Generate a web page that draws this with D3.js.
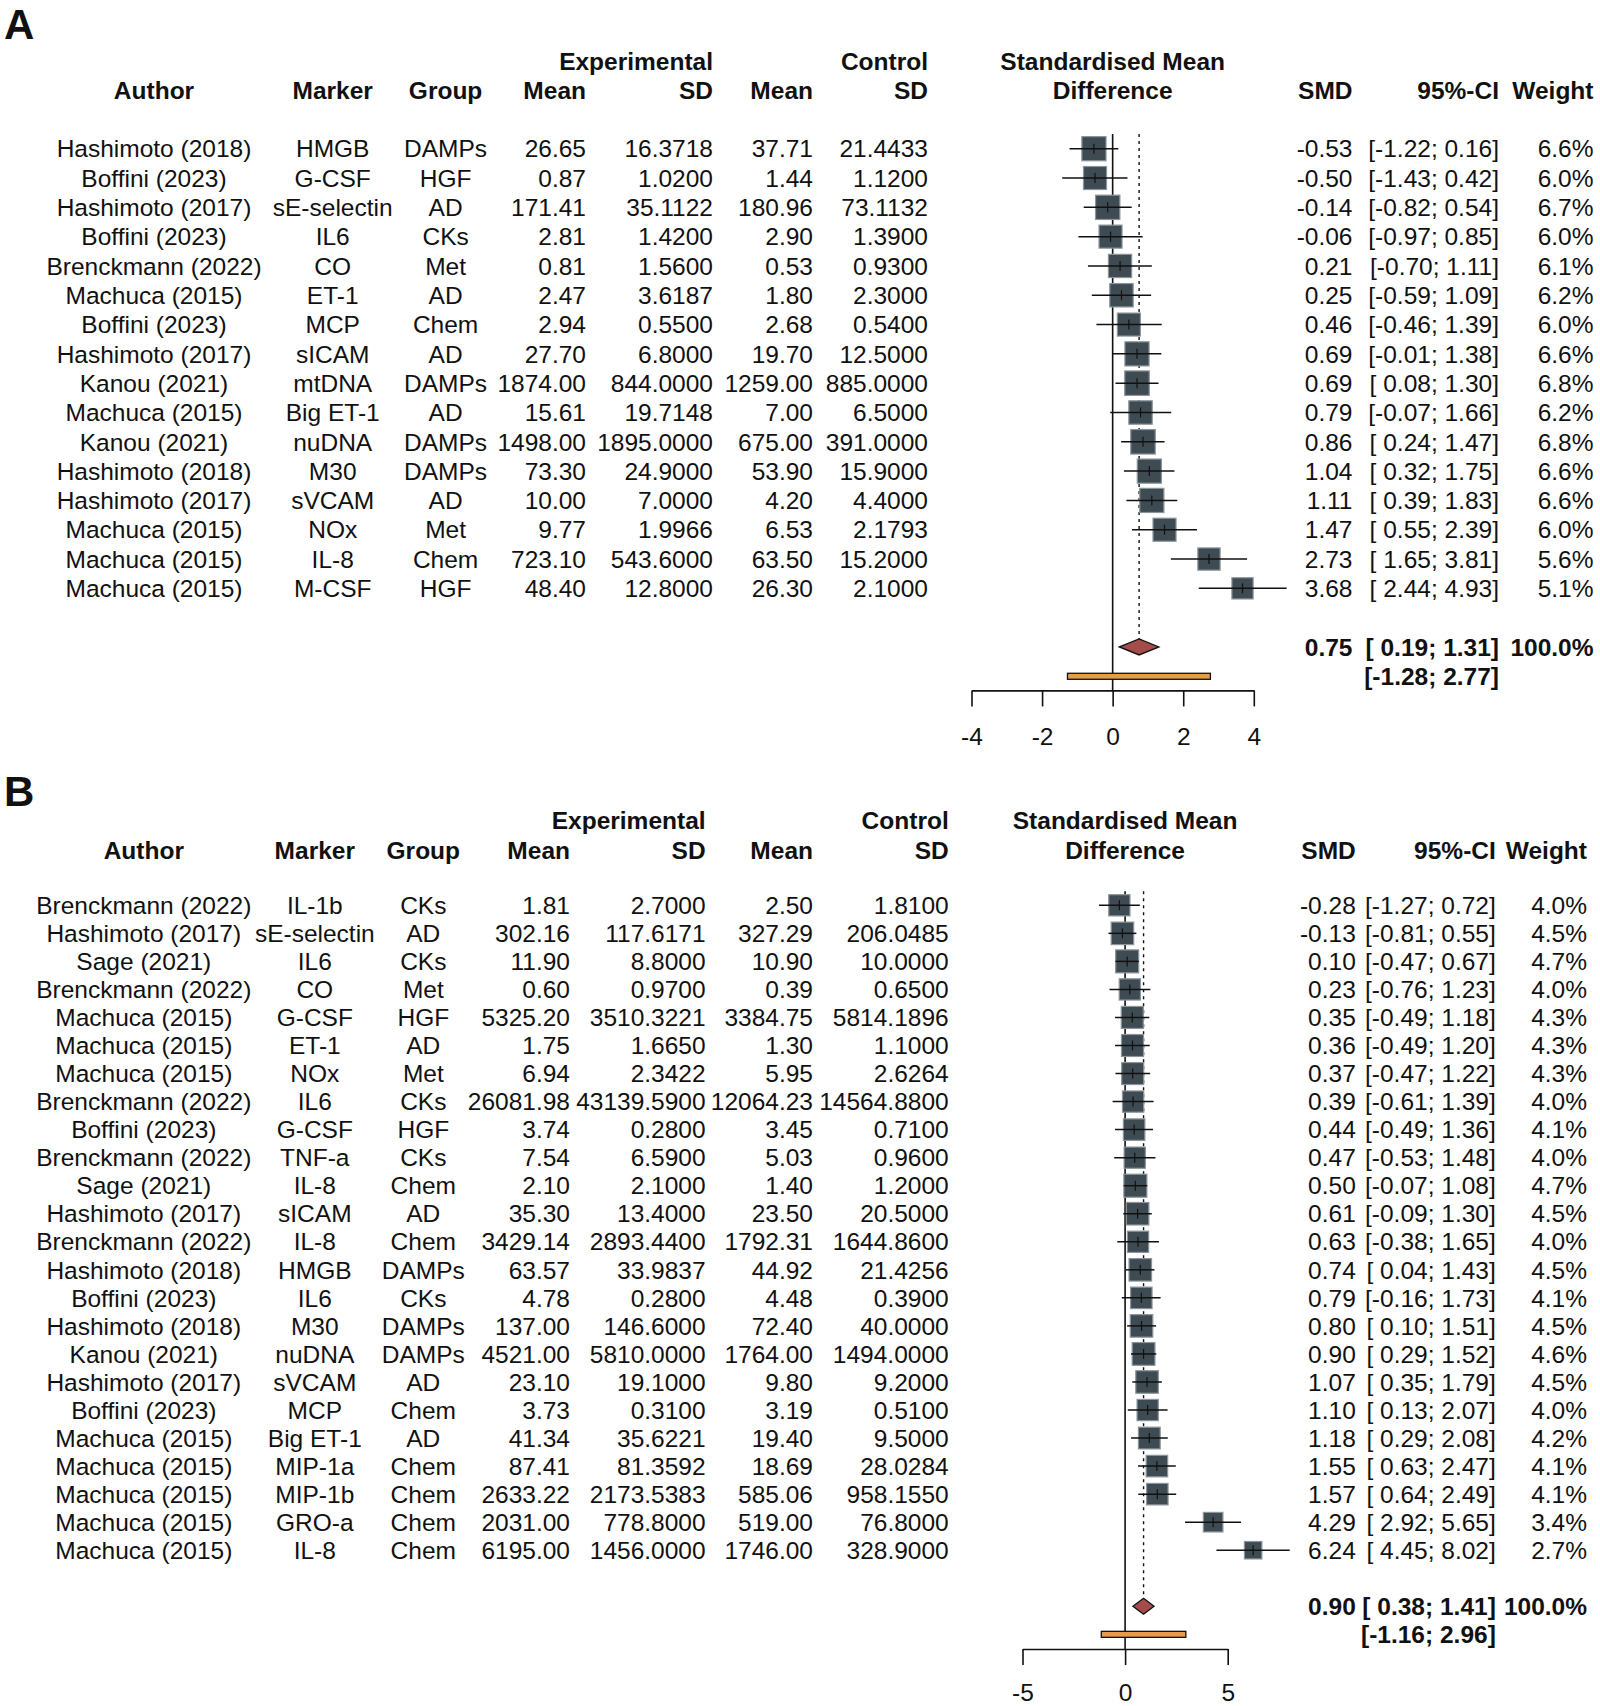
<!DOCTYPE html>
<html lang="en">
<head>
<meta charset="UTF-8" />
<title>Forest plots A and B</title>
<script src="https://cdn.jsdelivr.net/npm/d3@7"></script>
<style>
  body { margin: 0; background: #fff; }
  svg text { font-family: "Liberation Sans", Arial, sans-serif; font-size: 24.5px; fill: #111; white-space: pre; }
  .head, .sum { font-weight: bold; }
  .panel-label { font-weight: bold; font-size: 42px; }
</style>
</head>
<body>
<svg id="canvas" width="1600" height="1706"></svg>
<script>
// ---- panel A ----
const authorsA = ["Hashimoto (2018)", "Boffini (2023)", "Hashimoto (2017)", "Boffini (2023)", "Brenckmann (2022)", "Machuca (2015)", "Boffini (2023)", "Hashimoto (2017)", "Kanou (2021)", "Machuca (2015)", "Kanou (2021)", "Hashimoto (2018)", "Hashimoto (2017)", "Machuca (2015)", "Machuca (2015)", "Machuca (2015)"];
const markersA = ["HMGB", "G-CSF", "sE-selectin", "IL6", "CO", "ET-1", "MCP", "sICAM", "mtDNA", "Big ET-1", "nuDNA", "M30", "sVCAM", "NOx", "IL-8", "M-CSF"];
const groupsA = ["DAMPs", "HGF", "AD", "CKs", "Met", "AD", "Chem", "AD", "DAMPs", "AD", "DAMPs", "DAMPs", "AD", "Met", "Chem", "HGF"];
const expMeanA = [26.65, 0.87, 171.41, 2.81, 0.81, 2.47, 2.94, 27.70, 1874.00, 15.61, 1498.00, 73.30, 10.00, 9.77, 723.10, 48.40];
const expSdA = [16.3718, 1.0200, 35.1122, 1.4200, 1.5600, 3.6187, 0.5500, 6.8000, 844.0000, 19.7148, 1895.0000, 24.9000, 7.0000, 1.9966, 543.6000, 12.8000];
const ctrlMeanA = [37.71, 1.44, 180.96, 2.90, 0.53, 1.80, 2.68, 19.70, 1259.00, 7.00, 675.00, 53.90, 4.20, 6.53, 63.50, 26.30];
const ctrlSdA = [21.4433, 1.1200, 73.1132, 1.3900, 0.9300, 2.3000, 0.5400, 12.5000, 885.0000, 6.5000, 391.0000, 15.9000, 4.4000, 2.1793, 15.2000, 2.1000];
const smdA = [-0.53, -0.50, -0.14, -0.06, 0.21, 0.25, 0.46, 0.69, 0.69, 0.79, 0.86, 1.04, 1.11, 1.47, 2.73, 3.68];
const ciLowA = [-1.22, -1.43, -0.82, -0.97, -0.70, -0.59, -0.46, -0.01, 0.08, -0.07, 0.24, 0.32, 0.39, 0.55, 1.65, 2.44];
const ciHighA = [0.16, 0.42, 0.54, 0.85, 1.11, 1.09, 1.39, 1.38, 1.30, 1.66, 1.47, 1.75, 1.83, 2.39, 3.81, 4.93];
const weightA = [6.6, 6.0, 6.7, 6.0, 6.1, 6.2, 6.0, 6.6, 6.8, 6.2, 6.8, 6.6, 6.6, 6.0, 5.6, 5.1];
const summaryA = [0.75, 0.19, 1.31];
const predictionA = [-1.28, 2.77];
const ticksA = [-4, -2, 0, 2, 4];

// ---- panel B ----
const authorsB = ["Brenckmann (2022)", "Hashimoto (2017)", "Sage (2021)", "Brenckmann (2022)", "Machuca (2015)", "Machuca (2015)", "Machuca (2015)", "Brenckmann (2022)", "Boffini (2023)", "Brenckmann (2022)", "Sage (2021)", "Hashimoto (2017)", "Brenckmann (2022)", "Hashimoto (2018)", "Boffini (2023)", "Hashimoto (2018)", "Kanou (2021)", "Hashimoto (2017)", "Boffini (2023)", "Machuca (2015)", "Machuca (2015)", "Machuca (2015)", "Machuca (2015)", "Machuca (2015)"];
const markersB = ["IL-1b", "sE-selectin", "IL6", "CO", "G-CSF", "ET-1", "NOx", "IL6", "G-CSF", "TNF-a", "IL-8", "sICAM", "IL-8", "HMGB", "IL6", "M30", "nuDNA", "sVCAM", "MCP", "Big ET-1", "MIP-1a", "MIP-1b", "GRO-a", "IL-8"];
const groupsB = ["CKs", "AD", "CKs", "Met", "HGF", "AD", "Met", "CKs", "HGF", "CKs", "Chem", "AD", "Chem", "DAMPs", "CKs", "DAMPs", "DAMPs", "AD", "Chem", "AD", "Chem", "Chem", "Chem", "Chem"];
const expMeanB = [1.81, 302.16, 11.90, 0.60, 5325.20, 1.75, 6.94, 26081.98, 3.74, 7.54, 2.10, 35.30, 3429.14, 63.57, 4.78, 137.00, 4521.00, 23.10, 3.73, 41.34, 87.41, 2633.22, 2031.00, 6195.00];
const expSdB = [2.7000, 117.6171, 8.8000, 0.9700, 3510.3221, 1.6650, 2.3422, 43139.5900, 0.2800, 6.5900, 2.1000, 13.4000, 2893.4400, 33.9837, 0.2800, 146.6000, 5810.0000, 19.1000, 0.3100, 35.6221, 81.3592, 2173.5383, 778.8000, 1456.0000];
const ctrlMeanB = [2.50, 327.29, 10.90, 0.39, 3384.75, 1.30, 5.95, 12064.23, 3.45, 5.03, 1.40, 23.50, 1792.31, 44.92, 4.48, 72.40, 1764.00, 9.80, 3.19, 19.40, 18.69, 585.06, 519.00, 1746.00];
const ctrlSdB = [1.8100, 206.0485, 10.0000, 0.6500, 5814.1896, 1.1000, 2.6264, 14564.8800, 0.7100, 0.9600, 1.2000, 20.5000, 1644.8600, 21.4256, 0.3900, 40.0000, 1494.0000, 9.2000, 0.5100, 9.5000, 28.0284, 958.1550, 76.8000, 328.9000];
const smdB = [-0.28, -0.13, 0.10, 0.23, 0.35, 0.36, 0.37, 0.39, 0.44, 0.47, 0.50, 0.61, 0.63, 0.74, 0.79, 0.80, 0.90, 1.07, 1.10, 1.18, 1.55, 1.57, 4.29, 6.24];
const ciLowB = [-1.27, -0.81, -0.47, -0.76, -0.49, -0.49, -0.47, -0.61, -0.49, -0.53, -0.07, -0.09, -0.38, 0.04, -0.16, 0.10, 0.29, 0.35, 0.13, 0.29, 0.63, 0.64, 2.92, 4.45];
const ciHighB = [0.72, 0.55, 0.67, 1.23, 1.18, 1.20, 1.22, 1.39, 1.36, 1.48, 1.08, 1.30, 1.65, 1.43, 1.73, 1.51, 1.52, 1.79, 2.07, 2.08, 2.47, 2.49, 5.65, 8.02];
const weightB = [4.0, 4.5, 4.7, 4.0, 4.3, 4.3, 4.3, 4.0, 4.1, 4.0, 4.7, 4.5, 4.0, 4.5, 4.1, 4.5, 4.6, 4.5, 4.0, 4.2, 4.1, 4.1, 3.4, 2.7];
const summaryB = [0.90, 0.38, 1.41];
const predictionB = [-1.16, 2.96];
const ticksB = [-5, 0, 5];

const svg = d3.select("#canvas");
// plain hyphen as minus sign, like the R output
const loc = d3.formatLocale({ decimal: ".", thousands: ",", grouping: [3], currency: ["", ""], minus: "-" });
const f2 = loc.format(".2f"), f4 = loc.format(".4f"), f1 = loc.format(".1f");
const fmtSigned = (v) => (v < 0 ? f2(v) : " " + f2(v));
const ciText = (lo, hi) => "[" + fmtSigned(lo) + "; " + f2(hi) + "]";

function drawPanel(p) {
  const n = p.authors.length;
  const g = svg.append("g");
  const x = d3.scaleLinear().domain(p.domain).range(p.xRange);
  const y = d3.scaleLinear().domain([0, 1]).range([p.row0, p.row0 + p.rowStep]);
  const yDiamond = y(n + 1), yPred = y(n + 2);
  const base = 8.7; // text baseline offset from row centre

  // panel letter
  g.append("text").attr("class", "panel-label").attr("x", 4).attr("y", p.labelY).text(p.label);

  // headers
  const c = p.cols;
  const xMid = (p.xRange[0] + p.xRange[1]) / 2;
  const head = [
    ["Experimental", c.expSd, p.head1Y, "end"],
    ["Control", c.ctrlSd, p.head1Y, "end"],
    ["Standardised Mean", xMid, p.head1Y, "middle"],
    ["Author", c.author, p.head2Y, "middle"],
    ["Marker", c.marker, p.head2Y, "middle"],
    ["Group", c.group, p.head2Y, "middle"],
    ["Mean", c.expMean, p.head2Y, "end"],
    ["SD", c.expSd, p.head2Y, "end"],
    ["Mean", c.ctrlMean, p.head2Y, "end"],
    ["SD", c.ctrlSd, p.head2Y, "end"],
    ["Difference", xMid, p.head2Y, "middle"],
    ["SMD", c.smd, p.head2Y, "end"],
    ["95%-CI", c.ci, p.head2Y, "end"],
    ["Weight", c.weight, p.head2Y, "end"],
  ];
  g.selectAll(".head").data(head).enter().append("text")
    .attr("class", "head")
    .attr("x", (d) => d[1]).attr("y", (d) => d[2])
    .attr("text-anchor", (d) => d[3])
    .text((d) => d[0]);

  // table columns
  const cols = [
    [p.authors, c.author, "middle", (v) => v],
    [p.markers, c.marker, "middle", (v) => v],
    [p.groups, c.group, "middle", (v) => v],
    [p.expMean, c.expMean, "end", f2],
    [p.expSd, c.expSd, "end", f4],
    [p.ctrlMean, c.ctrlMean, "end", f2],
    [p.ctrlSd, c.ctrlSd, "end", f4],
    [p.smd, c.smd, "end", f2],
    [p.smd.map((d, i) => [p.ciLow[i], p.ciHigh[i]]), c.ci, "end", (v) => ciText(v[0], v[1])],
    [p.weight, c.weight, "end", (v) => f1(v) + "%"],
  ];
  cols.forEach(([vals, cx, anchor, fmt]) => {
    g.append("g").selectAll("text").data(vals).enter().append("text")
      .attr("x", cx)
      .attr("y", (d, i) => y(i) + base)
      .attr("text-anchor", anchor)
      .text(fmt);
  });

  // reference line at 0 and dotted summary line
  const top = y(0) - p.rowStep / 2;
  g.append("line")
    .attr("x1", x(0)).attr("x2", x(0)).attr("y1", top).attr("y2", p.axisY)
    .attr("stroke", "#111").attr("stroke-width", 1.6);
  g.append("line")
    .attr("x1", x(p.summary[0])).attr("x2", x(p.summary[0]))
    .attr("y1", top).attr("y2", yDiamond - 8)
    .attr("stroke", "#111").attr("stroke-width", 1.4).attr("stroke-dasharray", "3,4");

  // study squares and CIs
  const side = d3.scaleSqrt().domain([0, d3.max(p.weight)]).range([0, p.maxSide]);
  const rows = g.append("g").selectAll("g").data(p.smd).enter().append("g");
  rows.append("rect")
    .attr("x", (d, i) => x(d) - side(p.weight[i]) / 2)
    .attr("y", (d, i) => y(i) - side(p.weight[i]) / 2)
    .attr("width", (d, i) => side(p.weight[i]))
    .attr("height", (d, i) => side(p.weight[i]))
    .attr("fill", "#3f4b52").attr("stroke", "#8a969b").attr("stroke-width", 1.2);
  rows.append("line")
    .attr("x1", (d, i) => x(p.ciLow[i])).attr("x2", (d, i) => x(p.ciHigh[i]))
    .attr("y1", (d, i) => y(i)).attr("y2", (d, i) => y(i))
    .attr("stroke", "#111").attr("stroke-width", 1.5);
  rows.append("line")
    .attr("x1", (d) => x(d)).attr("x2", (d) => x(d))
    .attr("y1", (d, i) => y(i) - 5).attr("y2", (d, i) => y(i) + 5)
    .attr("stroke", "#111").attr("stroke-width", 1.2);

  // summary diamond
  const [est, lo, hi] = p.summary;
  g.append("path")
    .attr("d", `M${x(lo)},${yDiamond} L${x(est)},${yDiamond - 8} L${x(hi)},${yDiamond} L${x(est)},${yDiamond + 8} Z`)
    .attr("fill", "#a34c49").attr("stroke", "#111").attr("stroke-width", 1.3);

  // prediction interval bar
  g.append("rect")
    .attr("x", x(p.prediction[0])).attr("y", yPred - 3)
    .attr("width", x(p.prediction[1]) - x(p.prediction[0])).attr("height", 6)
    .attr("fill", "#e69c4c").attr("stroke", "#111").attr("stroke-width", 1.3);

  // summary text
  const sum = [
    [f2(est), c.smd, yDiamond],
    [ciText(lo, hi), c.ci, yDiamond],
    ["100.0%", c.weight, yDiamond],
    [ciText(p.prediction[0], p.prediction[1]), c.ci, yPred],
  ];
  g.selectAll(".sum").data(sum).enter().append("text")
    .attr("class", "sum")
    .attr("x", (d) => d[1]).attr("y", (d) => d[2] + base)
    .attr("text-anchor", "end")
    .text((d) => d[0]);

  // x axis
  const axis = d3.axisBottom(x).tickValues(p.ticks).tickSize(16).tickSizeOuter(0)
    .tickPadding(p.tickPad).tickFormat(loc.format("d"));
  const ax = g.append("g").attr("transform", `translate(0,${p.axisY})`).call(axis);
  ax.select(".domain").attr("stroke", "#111").attr("stroke-width", 1.6);
  ax.selectAll(".tick line").attr("stroke", "#111").attr("stroke-width", 1.6);
  ax.selectAll(".tick text")
    .attr("fill", "#111")
    .style("font-family", '"Liberation Sans", Arial, sans-serif')
    .style("font-size", "24.5px");
}

drawPanel({
  label: "A", labelY: 39, head1Y: 69.5, head2Y: 99,
  row0: 148.7, rowStep: 29.31,
  cols: { author: 154, marker: 332.7, group: 445.6, expMean: 586, expSd: 713, ctrlMean: 813, ctrlSd: 928, smd: 1352.5, ci: 1499, weight: 1593.5 },
  xRange: [971.5, 1253.8], domain: [-4, 4], axisY: 690.4, tickPad: 21, maxSide: 24.5,
  authors: authorsA, markers: markersA, groups: groupsA,
  expMean: expMeanA, expSd: expSdA, ctrlMean: ctrlMeanA, ctrlSd: ctrlSdA,
  smd: smdA, ciLow: ciLowA, ciHigh: ciHighA, weight: weightA,
  summary: summaryA, prediction: predictionA, ticks: ticksA,
});

drawPanel({
  label: "B", labelY: 806, head1Y: 829.3, head2Y: 858.6,
  row0: 905.3, rowStep: 28.04,
  cols: { author: 143.8, marker: 314.8, group: 423.3, expMean: 570, expSd: 705.6, ctrlMean: 813, ctrlSd: 948.7, smd: 1355.8, ci: 1495.8, weight: 1587 },
  xRange: [1022.5, 1227.7], domain: [-5, 5], axisY: 1649, tickPad: 19, maxSide: 23,
  authors: authorsB, markers: markersB, groups: groupsB,
  expMean: expMeanB, expSd: expSdB, ctrlMean: ctrlMeanB, ctrlSd: ctrlSdB,
  smd: smdB, ciLow: ciLowB, ciHigh: ciHighB, weight: weightB,
  summary: summaryB, prediction: predictionB, ticks: ticksB,
});
</script>
</body>
</html>
